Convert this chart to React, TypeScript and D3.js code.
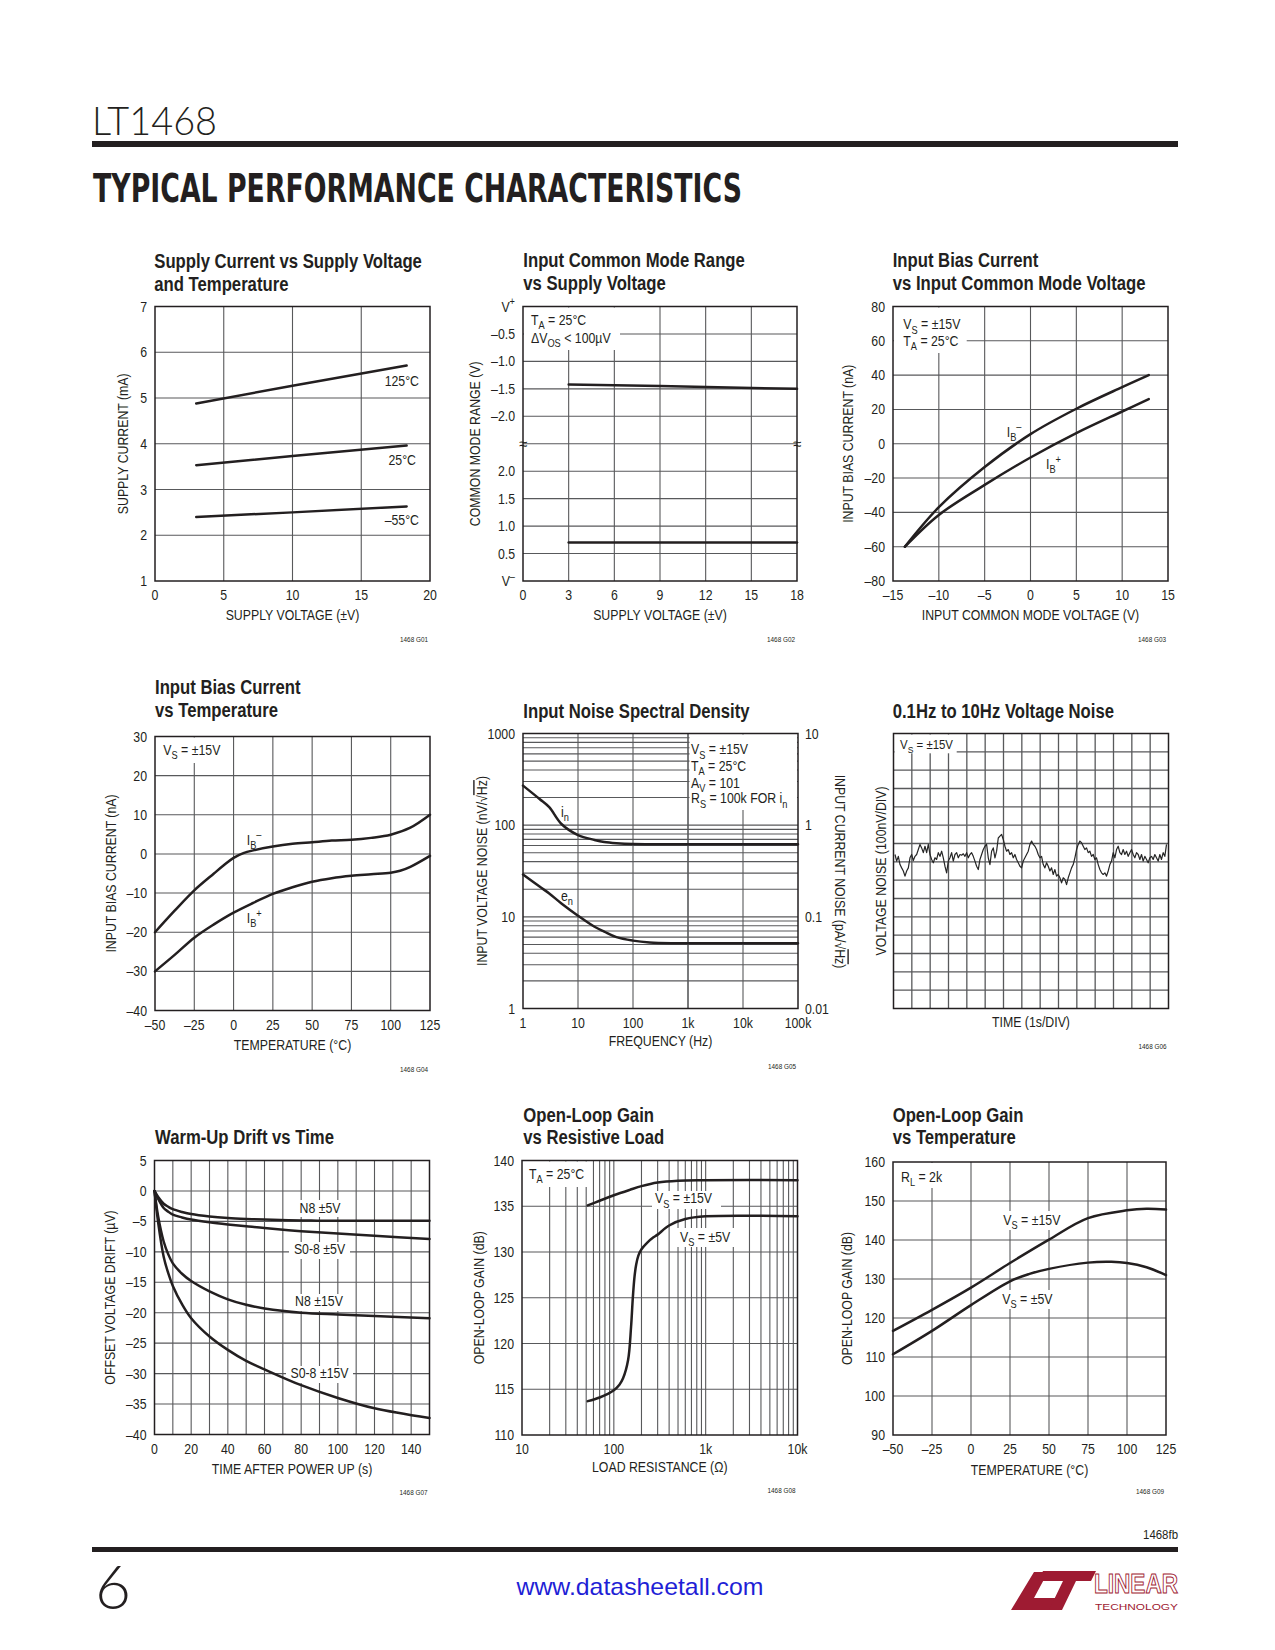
import React from 'react';
import * as d3 from 'd3';

const INK = '#231f20';
const GRID = '#58595b';
const SANS = '"Liberation Sans", Arial, Helvetica, sans-serif';

// ---------- Chart 1: Supply current vs supply voltage ----------
const c1Volts = [3, 10, 18.3];
const c1I125 = [4.88, 5.27, 5.71];
const c1I25 = [3.53, 3.73, 3.96];
const c1Im55 = [2.4, 2.5, 2.63];
const c1XTicks = [0, 5, 10, 15, 20];
const c1YTicks = [1, 2, 3, 4, 5, 6, 7];

// ---------- Chart 2: Input common mode range ----------
const c2UpperVs = [3, 9, 18];
const c2Upper = [-1.42, -1.45, -1.5];
const c2LowerVs = [3, 18];
const c2Lower = [0.7, 0.7];
const c2XTicks = [0, 3, 6, 9, 12, 15, 18];
const c2YLabels = ['V^{+}', '–0.5', '–1.0', '–1.5', '–2.0', '', '2.0', '1.5', '1.0', '0.5', 'V^{–}'];

// ---------- Chart 3: Input bias current vs common mode voltage ----------
const c3Vcm = [-13.7, -10, -5, 0, 5, 10, 12.9];
const c3IbMinus = [-60, -37, -13.6, 5.6, 20.4, 33, 40];
const c3IbPlus = [-60, -41.5, -24, -8, 6.2, 18.8, 26];
const c3XTicks = [-15, -10, -5, 0, 5, 10, 15];
const c3YTicks = [80, 60, 40, 20, 0, -20, -40, -60, -80];

// ---------- Chart 4: Input bias current vs temperature ----------
const c4TempM = [-50, -37.5, -25, -12.5, -6.25, 0, 6.25, 12.5, 25, 37.5, 50, 62.5, 75, 87.5, 100, 112.5, 125];
const c4IbMinus = [-20, -14.5, -9.3, -5.0, -2.9, -1.0, 0.2, 0.9, 1.9, 2.6, 3.0, 3.4, 3.6, 4.1, 4.9, 6.7, 10];
const c4TempP = [-50, -37.5, -25, -12.5, 0, 12.5, 25, 37.5, 50, 62.5, 75, 87.5, 100, 106, 112.5, 125];
const c4IbPlus = [-30, -25.8, -21.4, -18, -15, -12.5, -10.2, -8.5, -7.1, -6.2, -5.6, -5.2, -4.8, -4.3, -3.3, -0.5];
const c4XTicks = [-50, -25, 0, 25, 50, 75, 100, 125];
const c4YTicks = [30, 20, 10, 0, -10, -20, -30, -40];

// ---------- Chart 5: Input noise spectral density ----------
const c5Freq = [1, 2, 3, 5, 10, 20, 30, 50, 100, 200, 500, 1000, 100000];
const c5CurrentNoise = [2.7, 1.93, 1.57, 1.03, 0.78, 0.69, 0.655, 0.635, 0.622, 0.62, 0.62, 0.62, 0.62]; // pA/rtHz
const c5VoltageNoise = [29, 21.4, 18, 14, 10.3, 7.8, 6.9, 6.0, 5.5, 5.25, 5.15, 5.15, 5.15]; // nV/rtHz
const c5XTicks = [1, 10, 100, 1000, 10000, 100000];
const c5XLabels = ['1', '10', '100', '1k', '10k', '100k'];
const c5YTicks = [1000, 100, 10, 1];
const c5YLabels = ['1000', '100', '10', '1'];
const c5RLabels = ['10', '1', '0.1', '0.01'];

// ---------- Chart 6: 0.1Hz to 10Hz voltage noise (divisions) ----------
const c6Noise = [0.4, 0.04, 0.3, -0.15, -0.33, -0.5, -0.78, -0.5, -0.33, 0.22, 0.4, 0.07, 0.3, 0.4, 0.67, 0.95, 0.76, 0.5, 0.85, 0.5, 0.95, 0.4, 0.13, -0.05, 0.22, 0.13, 0.5, 0.3, 0.58, 0.22, -0.24, -0.6, 0.04, 0.22, 0.5, 0.04, 0.4, 0.5, 0.22, 0.4, 0.36, 0.44, 0.3, 0.5, 0.22, 0.4, 0.5, 0.3, 0.04, -0.24, -0.42, 0.13, 0.4, 0.67, 0.85, 0.95, 0.22, -0.15, 0.58, 0.76, 0.22, 0.58, 1.3, 1.4, 1.5, 1.22, 0.85, 0.58, 0.67, 0.4, 0.5, 0.22, 0.4, 0.13, -0.05, -0.24, -0.33, 0.04, 0.22, 0.4, 0.58, 0.95, 1.13, 0.95, 0.85, 0.67, 0.4, 0.22, 0.3, -0.15, -0.33, -0.05, -0.24, -0.5, -0.33, -0.69, -0.42, -0.78, -0.69, -0.87, -1.15, -0.87, -0.96, -1.24, -0.87, -0.6, -0.33, -0.15, 0.22, 0.67, 0.95, 1.13, 1.04, 0.85, 0.67, 0.76, 0.5, 0.58, 0.3, 0.4, 0.13, 0.22, -0.15, -0.42, -0.6, -0.69, -0.6, -0.78, -0.5, -0.15, 0.04, 0.5, 0.22, 0.67, 0.85, 0.5, 0.4, 0.67, 0.4, 0.58, 0.3, 0.5, 0.67, 0.4, 0.22, 0.5, 0.4, 0.13, 0.4, 0.04, 0.3, 0.13, -0.05, 0.22, 0.3, 0.13, 0.4, 0.22, 0.04, 0.4, 0.13, 0.5, 0.3, 0.95];

// ---------- Chart 7: Warm-up drift vs time ----------
const c7Time = [0, 2, 5, 7.5, 10, 15, 20, 30, 40, 50, 60, 80, 100, 120, 150];
const c7N8_5 = [0, -1.0, -2.1, -2.6, -3.0, -3.45, -3.8, -4.2, -4.45, -4.6, -4.7, -4.85, -4.9, -4.9, -4.9];
const c7SO8_5 = [0, -1.3, -2.8, -3.4, -3.9, -4.35, -4.7, -5.15, -5.5, -5.8, -6.1, -6.6, -7.0, -7.35, -7.9];
const c7N8_15 = [0, -4.2, -8.3, -10.4, -11.9, -13.6, -14.8, -16.5, -17.8, -18.7, -19.3, -20.0, -20.3, -20.55, -20.9];
const c7SO8_15 = [0, -5.2, -10.8, -13.5, -15.6, -18.6, -20.9, -23.9, -26.1, -27.9, -29.3, -31.9, -34.0, -35.7, -37.3];
const c7XTicks = [0, 20, 40, 60, 80, 100, 120, 140];
const c7YTicks = [5, 0, -5, -10, -15, -20, -25, -30, -35, -40];

// ---------- Chart 8: Open-loop gain vs resistive load ----------
const c8R15 = [52, 70, 100, 150, 200, 300, 500, 1000, 10000];
const c8G15 = [135.1, 135.6, 136.2, 136.8, 137.2, 137.6, 137.8, 137.85, 137.85];
const c8R5 = [52, 70, 100, 115, 126, 143, 154, 161, 168, 175, 185, 200, 230, 270, 300, 400, 600, 1000, 10000];
const c8G5 = [113.7, 114.1, 114.9, 115.5, 116.2, 118.2, 121.8, 125.0, 127.3, 128.6, 129.6, 130.3, 131.0, 131.6, 131.9, 132.9, 133.6, 133.9, 133.9];
const c8XTicks = [10, 100, 1000, 10000];
const c8XLabels = ['10', '100', '1k', '10k'];
const c8YTicks = [140, 135, 130, 125, 120, 115, 110];

// ---------- Chart 9: Open-loop gain vs temperature ----------
const c9Temp15 = [-50, -25, 0, 25, 50, 75, 100, 112.5, 125];
const c9G15 = [116.7, 122.1, 127.8, 134.1, 140.1, 145.6, 147.6, 148, 147.8];
const c9Temp5 = [-50, -25, 0, 25, 37.5, 50, 75, 90, 100, 112.5, 125];
const c9G5 = [110.7, 116.7, 123.3, 129.4, 131.3, 132.6, 134.2, 134.4, 134.1, 133, 131];
const c9XTicks = [-50, -25, 0, 25, 50, 75, 100, 125];
const c9YTicks = [160, 150, 140, 130, 120, 110, 100, 90];

// ---------- helpers ----------
const zip = (a: number[], b: number[]) => a.map((v, i) => [v, b[i]] as [number, number]);
const fmtNum = (v: number) => (v < 0 ? '–' + Math.abs(v) : String(v));
const SMOOTH = d3.curveCatmullRom.alpha(0.5);

function spans(s: string, size: number) {
  const out: any[] = [];
  const re = /([_^~])\{([^}]*)\}/g;
  let last = 0, off = 0, k = 0;
  let m: any;
  while ((m = re.exec(s))) {
    if (m.index > last) {
      out.push(<tspan key={k++} dy={-off}>{s.slice(last, m.index)}</tspan>);
      off = 0;
    }
    if (m[1] === '~') {
      out.push(<tspan key={k++} dy={-off} style={{ textDecoration: 'overline' }}>{m[2]}</tspan>);
      off = 0;
    } else {
      const t = m[1] === '_' ? size * 0.3 : -size * 0.45;
      out.push(<tspan key={k++} dy={t - off} fontSize={size * 0.75}>{m[2]}</tspan>);
      off = t;
    }
    last = re.lastIndex;
  }
  if (last < s.length) out.push(<tspan key={k++} dy={-off}>{s.slice(last)}</tspan>);
  return out;
}

function Tx({ x, y, s, size = 14, anchor = 'start', weight = 400, rot = 0, sx = 0.88, fill = INK, family = SANS }: any) {
  return (
    <text transform={`translate(${x},${y}) rotate(${rot}) scale(${sx},1)`} fontSize={size} textAnchor={anchor}
      fontWeight={weight} fontFamily={family} fill={fill}>{spans(s, size)}</text>
  );
}

const Title = ({ x, y, lines }: any) => (
  <g>{lines.map((l: string, i: number) => <Tx key={i} x={x} y={y + i * 22.7} s={l} size={20} weight={700} sx={0.835} />)}</g>
);

const Frame = ({ L, T, W, H }: any) => <rect x={L} y={T} width={W} height={H} fill="none" stroke={INK} strokeWidth={1.5} />;
const VL = ({ xs, T, B, w = 1.1 }: any) => (
  <g stroke={GRID} strokeWidth={w}>{xs.map((x: number, i: number) => <line key={i} x1={x} x2={x} y1={T} y2={B} />)}</g>
);
const HL = ({ ys, L, R, w = 1.1 }: any) => (
  <g stroke={GRID} strokeWidth={w}>{ys.map((y: number, i: number) => <line key={i} x1={L} x2={R} y1={y} y2={y} />)}</g>
);
const Curve = ({ d, w = 2.5 }: any) => <path d={d || ''} fill="none" stroke={INK} strokeWidth={w} strokeLinejoin="round" strokeLinecap="round" />;
const WBox = ({ x, y, w, h }: any) => <rect x={x} y={y} width={w} height={h} fill="#fff" />;

const XLab = ({ ticks, x, B, labels, dy = 19 }: any) => (
  <g>{ticks.map((t: number, i: number) => <Tx key={i} x={x(t)} y={B + dy} s={labels ? labels[i] : fmtNum(t)} anchor="middle" />)}</g>
);
const YLab = ({ ticks, y, L, labels }: any) => (
  <g>{ticks.map((t: number, i: number) => <Tx key={i} x={L - 8} y={y(t) + 5} s={labels ? labels[i] : fmtNum(t)} anchor="end" />)}</g>
);
const GId = ({ R, B, s, dy = 61 }: any) => <Tx x={R - 2} y={B + dy} s={s} size={7.5} anchor="end" sx={0.85} />;

const lineGen = (x: any, y: any, curve: any = SMOOTH) =>
  d3.line<[number, number]>().x((d) => x(d[0])).y((d) => y(d[1])).curve(curve);

// ---------- charts ----------
function Chart1() {
  const L = 155, T = 306.5, W = 275, H = 274.5, R = L + W, B = T + H;
  const x = d3.scaleLinear().domain([0, 20]).range([L, R]);
  const y = d3.scaleLinear().domain([1, 7]).range([B, T]);
  const lg = lineGen(x, y, d3.curveLinear);
  return (
    <g>
      <Title x={154.3} y={268} lines={['Supply Current vs Supply Voltage', 'and Temperature']} />
      <VL xs={[5, 10, 15].map(x)} T={T} B={B} />
      <HL ys={[2, 3, 4, 5, 6].map(y)} L={L} R={R} />
      <Frame L={L} T={T} W={W} H={H} />
      <Curve d={lg(zip(c1Volts, c1I125))} />
      <Curve d={lg(zip(c1Volts, c1I25))} />
      <Curve d={lg(zip(c1Volts, c1Im55))} />
      <Tx x={419} y={386} s="125°C" anchor="end" />
      <Tx x={416} y={465} s="25°C" anchor="end" />
      <Tx x={419} y={525} s="–55°C" anchor="end" />
      <XLab ticks={c1XTicks} x={x} B={B} />
      <YLab ticks={c1YTicks} y={y} L={L} />
      <Tx x={(L + R) / 2} y={B + 39} s="SUPPLY VOLTAGE (±V)" anchor="middle" />
      <Tx x={127.5} y={(T + B) / 2} s="SUPPLY CURRENT (mA)" anchor="middle" rot={-90} />
      <GId R={R} B={B} s="1468 G01" />
    </g>
  );
}

function Chart2() {
  const L = 523, T = 306.5, W = 274, H = 274.5, R = L + W, B = T + H;
  const x = d3.scaleLinear().domain([0, 18]).range([L, R]);
  const step = d3.scaleLinear().domain([0, 10]).range([T, B]);
  const yTop = d3.scaleLinear().domain([0, -2]).range([step(0), step(4)]);
  const yBot = d3.scaleLinear().domain([0, 2]).range([step(10), step(6)]);
  const steps = d3.range(0, 11);
  return (
    <g>
      <Title x={523.3} y={267.3} lines={['Input Common Mode Range', 'vs Supply Voltage']} />
      <VL xs={[3, 6, 9, 12, 15].map(x)} T={T} B={B} />
      <HL ys={d3.range(1, 10).map(step)} L={L} R={R} />
      <WBox x={L + 1} y={T + 1} w={620 - L - 1} h={350 - T - 1} />
      <Frame L={L} T={T} W={W} H={H} />
      <Curve d={lineGen(x, yTop, d3.curveLinear)(zip(c2UpperVs, c2Upper))} />
      <Curve d={lineGen(x, yBot, d3.curveLinear)(zip(c2LowerVs, c2Lower))} />
      <Tx x={531} y={325} s="T_{A} = 25°C" />
      <Tx x={531} y={342.7} s="ΔV_{OS} < 100µV" />
      <Tx x={L} y={step(5) + 5} s="≈" anchor="middle" size={15} sx={1} />
      <Tx x={R} y={step(5) + 5} s="≈" anchor="middle" size={15} sx={1} />
      <XLab ticks={c2XTicks} x={x} B={B} />
      <g>{steps.map((s, i) => <Tx key={i} x={L - 8} y={step(s) + 5} s={c2YLabels[i]} anchor="end" />)}</g>
      <Tx x={(L + R) / 2} y={B + 39} s="SUPPLY VOLTAGE (±V)" anchor="middle" />
      <Tx x={479.5} y={(T + B) / 2} s="COMMON MODE RANGE (V)" anchor="middle" rot={-90} />
      <GId R={R} B={B} s="1468 G02" />
    </g>
  );
}

function Chart3() {
  const L = 893, T = 306.5, W = 275, H = 274.5, R = L + W, B = T + H;
  const x = d3.scaleLinear().domain([-15, 15]).range([L, R]);
  const y = d3.scaleLinear().domain([-80, 80]).range([B, T]);
  const lg = lineGen(x, y);
  return (
    <g>
      <Title x={892.7} y={267.3} lines={['Input Bias Current', 'vs Input Common Mode Voltage']} />
      <VL xs={[-10, -5, 0, 5, 10].map(x)} T={T} B={B} />
      <HL ys={[60, 40, 20, 0, -20, -40, -60].map(y)} L={L} R={R} />
      <WBox x={L + 1} y={T + 1} w={966.7 - L - 1} h={353 - T - 1} />
      <Frame L={L} T={T} W={W} H={H} />
      <Curve d={lg(zip(c3Vcm, c3IbMinus))} />
      <Curve d={lg(zip(c3Vcm, c3IbPlus))} />
      <Tx x={903.3} y={329.3} s="V_{S} = ±15V" />
      <Tx x={903.3} y={345.5} s="T_{A} = 25°C" />
      <Tx x={1006.7} y={436.7} s="I_{B}^{–}" />
      <Tx x={1046} y={469} s="I_{B}^{+}" />
      <XLab ticks={c3XTicks} x={x} B={B} />
      <YLab ticks={c3YTicks} y={y} L={L} />
      <Tx x={(L + R) / 2} y={B + 39} s="INPUT COMMON MODE VOLTAGE (V)" anchor="middle" />
      <Tx x={853} y={(T + B) / 2} s="INPUT BIAS CURRENT (nA)" anchor="middle" rot={-90} />
      <GId R={R} B={B} s="1468 G03" />
    </g>
  );
}

function Chart4() {
  const L = 155, T = 736.5, W = 275, H = 274, R = L + W, B = T + H;
  const x = d3.scaleLinear().domain([-50, 125]).range([L, R]);
  const y = d3.scaleLinear().domain([-40, 30]).range([B, T]);
  const lg = lineGen(x, y);
  return (
    <g>
      <Title x={155} y={694} lines={['Input Bias Current', 'vs Temperature']} />
      <VL xs={[-25, 0, 25, 50, 75, 100].map(x)} T={T} B={B} />
      <HL ys={[20, 10, 0, -10, -20, -30].map(y)} L={L} R={R} />
      <WBox x={L + 1} y={T + 1} w={230 - L - 1} h={763 - T - 1} />
      <Frame L={L} T={T} W={W} H={H} />
      <Curve d={lg(zip(c4TempM, c4IbMinus))} />
      <Curve d={lg(zip(c4TempP, c4IbPlus))} />
      <Tx x={163.3} y={755} s="V_{S} = ±15V" />
      <Tx x={246.7} y={844.5} s="I_{B}^{–}" />
      <Tx x={246.7} y={923} s="I_{B}^{+}" />
      <XLab ticks={c4XTicks} x={x} B={B} />
      <YLab ticks={c4YTicks} y={y} L={L} />
      <Tx x={(L + R) / 2} y={B + 39} s="TEMPERATURE (°C)" anchor="middle" />
      <Tx x={116} y={(T + B) / 2} s="INPUT BIAS CURRENT (nA)" anchor="middle" rot={-90} />
      <GId R={R} B={B} s="1468 G04" />
    </g>
  );
}

function Chart5() {
  const L = 523, T = 733.5, W = 275, H = 275, R = L + W, B = T + H;
  const x = d3.scaleLog().domain([1, 100000]).range([L, R]);
  const y = d3.scaleLog().domain([1, 1000]).range([B, T]);
  const yR = d3.scaleLog().domain([0.01, 10]).range([B, T]);
  const minor: number[] = [];
  [1, 10, 100].forEach((b) => d3.range(1, 10).forEach((m) => { if (b * m > 1) minor.push(b * m); }));
  return (
    <g>
      <Title x={523.3} y={717.7} lines={['Input Noise Spectral Density']} />
      <HL ys={minor.map(y)} L={L} R={R} />
      <VL xs={[10, 100, 1000, 10000].map(x)} T={T} B={B} />
      <WBox x={689.5} y={T + 1} w={R - 689.5 - 1} h={810 - T - 1} />
      <line x1={x(1000)} x2={x(1000)} y1={T} y2={B} stroke={GRID} strokeWidth={1.1} />
      <Frame L={L} T={T} W={W} H={H} />
      <Curve d={lineGen(x, yR)(zip(c5Freq, c5CurrentNoise))} />
      <Curve d={lineGen(x, y)(zip(c5Freq, c5VoltageNoise))} />
      <Tx x={691} y={754.3} s="V_{S} = ±15V" />
      <Tx x={691} y={771} s="T_{A} = 25°C" />
      <Tx x={691} y={787.7} s="A_{V} = 101" />
      <Tx x={691} y={803.3} s="R_{S} = 100k FOR i_{n}" />
      <Tx x={561} y={816.7} s="i_{n}" />
      <Tx x={561} y={900.7} s="e_{n}" />
      <XLab ticks={c5XTicks} x={x} B={B} labels={c5XLabels} />
      <YLab ticks={c5YTicks} y={y} L={L} labels={c5YLabels} />
      <g>{c5YTicks.map((t, i) => <Tx key={i} x={R + 7} y={y(t) + 5} s={c5RLabels[i]} />)}</g>
      <Tx x={(L + R) / 2} y={B + 37} s="FREQUENCY (Hz)" anchor="middle" />
      <Tx x={487} y={(T + B) / 2} s="INPUT VOLTAGE NOISE (nV/√~{Hz})" anchor="middle" rot={-90} />
      <Tx x={835} y={871.5} s="INPUT CURRENT NOISE (pA/√~{Hz})" anchor="middle" rot={90} />
      <GId R={R} B={B} s="1468 G05" dy={60} />
    </g>
  );
}

function Chart6() {
  const L = 893.5, T = 733.5, W = 275, H = 275, R = L + W, B = T + H;
  const gx = d3.scaleLinear().domain([0, 15]).range([L, R]);
  const gy = d3.scaleLinear().domain([-8, 7]).range([B, T]);
  const x = d3.scaleLinear().domain([0, c6Noise.length - 1]).range([L + 1.5, R - 2]);
  const lg = d3.line<number>().x((_, i) => x(i)).y((v) => gy(v));
  return (
    <g>
      <Title x={892.7} y={717.7} lines={['0.1Hz to 10Hz Voltage Noise']} />
      <VL xs={d3.range(1, 15).map(gx)} T={T} B={B} w={1.3} />
      <HL ys={d3.range(-7, 7).map(gy)} L={L} R={R} w={1.3} />
      <WBox x={L + 1} y={T + 1} w={956.7 - L - 1} h={753.3 - T - 1} />
      <Frame L={L} T={T} W={W} H={H} />
      <path d={lg(c6Noise) || ''} fill="none" stroke="#262626" strokeWidth={1.2} strokeLinejoin="round" />
      <Tx x={900} y={749.3} s="V_{S} = ±15V" size={13} />
      <Tx x={(L + R) / 2} y={B + 18} s="TIME (1s/DIV)" anchor="middle" />
      <Tx x={886} y={(T + B) / 2} s="VOLTAGE NOISE (100nV/DIV)" anchor="middle" rot={-90} />
      <GId R={R} B={B} s="1468 G06" dy={40} />
    </g>
  );
}

function Chart7() {
  const L = 154.5, T = 1160.5, W = 275, H = 274, R = L + W, B = T + H;
  const x = d3.scaleLinear().domain([0, 150]).range([L, R]);
  const y = d3.scaleLinear().domain([-40, 5]).range([B, T]);
  const lg = lineGen(x, y);
  return (
    <g>
      <Title x={155} y={1144} lines={['Warm-Up Drift vs Time']} />
      <VL xs={d3.range(10, 150, 10).map(x)} T={T} B={B} />
      <HL ys={d3.range(-35, 5, 5).map(y)} L={L} R={R} />
      <WBox x={296} y={1200} w={48} h={17} />
      <WBox x={289} y={1242} w={61} h={17} />
      <WBox x={292} y={1294} w={55} h={17} />
      <WBox x={286} y={1366} w={67} h={17} />
      <Frame L={L} T={T} W={W} H={H} />
      <Curve d={lg(zip(c7Time, c7N8_5))} />
      <Curve d={lg(zip(c7Time, c7SO8_5))} />
      <Curve d={lg(zip(c7Time, c7N8_15))} />
      <Curve d={lg(zip(c7Time, c7SO8_15))} />
      <Tx x={320} y={1213.3} s="N8 ±5V" anchor="middle" />
      <Tx x={319.5} y={1254.3} s="S0-8 ±5V" anchor="middle" />
      <Tx x={319} y={1306} s="N8 ±15V" anchor="middle" />
      <Tx x={319.5} y={1378.3} s="S0-8 ±15V" anchor="middle" />
      <XLab ticks={c7XTicks} x={x} B={B} />
      <YLab ticks={c7YTicks} y={y} L={L} />
      <Tx x={(L + R) / 2} y={B + 39} s="TIME AFTER POWER UP (s)" anchor="middle" />
      <Tx x={114.5} y={(T + B) / 2} s="OFFSET VOLTAGE DRIFT (µV)" anchor="middle" rot={-90} />
      <GId R={R} B={B} s="1468 G07" dy={60} />
    </g>
  );
}

function Chart8() {
  const L = 522, T = 1160.5, W = 275.5, H = 274.5, R = L + W, B = T + H;
  const x = d3.scaleLog().domain([10, 10000]).range([L, R]);
  const y = d3.scaleLinear().domain([110, 140]).range([B, T]);
  const vlines: number[] = [];
  [10, 100, 1000].forEach((b) => d3.range(1, 10).forEach((m) => { if (b * m > 10) vlines.push(b * m); }));
  const lg = lineGen(x, y);
  return (
    <g>
      <Title x={523.3} y={1121.7} lines={['Open-Loop Gain', 'vs Resistive Load']} />
      <VL xs={vlines.map(x)} T={T} B={B} />
      <HL ys={[135, 130, 125, 120, 115].map(y)} L={L} R={R} />
      <WBox x={L + 1} y={T + 1} w={587 - L - 1} h={1187 - T - 1} />
      <WBox x={652} y={1191} w={69} h={18} />
      <WBox x={677} y={1228} w={57} h={19} />
      <Frame L={L} T={T} W={W} H={H} />
      <Curve d={lg(zip(c8R15, c8G15))} />
      <Curve d={lg(zip(c8R5, c8G5))} />
      <Tx x={529} y={1179} s="T_{A} = 25°C" />
      <Tx x={655} y={1203.3} s="V_{S} = ±15V" />
      <Tx x={680} y={1241.7} s="V_{S} = ±5V" />
      <XLab ticks={c8XTicks} x={x} B={B} labels={c8XLabels} />
      <YLab ticks={c8YTicks} y={y} L={L} />
      <Tx x={(L + R) / 2} y={B + 37} s="LOAD RESISTANCE (Ω)" anchor="middle" />
      <Tx x={484} y={(T + B) / 2} s="OPEN-LOOP GAIN (dB)" anchor="middle" rot={-90} />
      <GId R={R} B={B} s="1468 G08" dy={58} />
    </g>
  );
}

function Chart9() {
  const L = 893, T = 1162, W = 273, H = 273, R = L + W, B = T + H;
  const x = d3.scaleLinear().domain([-50, 125]).range([L, R]);
  const y = d3.scaleLinear().domain([90, 160]).range([B, T]);
  const lg = lineGen(x, y);
  return (
    <g>
      <Title x={892.7} y={1121.7} lines={['Open-Loop Gain', 'vs Temperature']} />
      <VL xs={[-25, 0, 25, 50, 75, 100].map(x)} T={T} B={B} />
      <HL ys={[150, 140, 130, 120, 110, 100].map(y)} L={L} R={R} />
      <WBox x={L + 1} y={T + 1} w={950 - L - 1} h={1188 - T - 1} />
      <WBox x={1000} y={1211} w={66} h={19} />
      <WBox x={999} y={1290} w={60} h={19} />
      <Frame L={L} T={T} W={W} H={H} />
      <Curve d={lg(zip(c9Temp15, c9G15))} />
      <Curve d={lg(zip(c9Temp5, c9G5))} />
      <Tx x={901} y={1181.7} s="R_{L} = 2k" />
      <Tx x={1003.3} y={1225} s="V_{S} = ±15V" />
      <Tx x={1002.3} y={1304} s="V_{S} = ±5V" />
      <XLab ticks={c9XTicks} x={x} B={B} />
      <YLab ticks={c9YTicks} y={y} L={L} />
      <Tx x={(L + R) / 2} y={B + 40} s="TEMPERATURE (°C)" anchor="middle" />
      <Tx x={852} y={(T + B) / 2} s="OPEN-LOOP GAIN (dB)" anchor="middle" rot={-90} />
      <GId R={R} B={B} s="1468 G09" dy={59} />
    </g>
  );
}

function Header() {
  return (
    <g>
      <text x={92} y={135} fontSize={39} fontFamily='Lato, "DejaVu Sans", sans-serif' fontWeight={300} fill={INK}
        textLength={125} lengthAdjust="spacingAndGlyphs">LT1468</text>
      <rect x={92} y={141} width={1086} height={6} fill={INK} />
      <text x={93} y={202} fontSize={39} fontFamily='"DejaVu Sans", sans-serif' fontWeight={900} fill={INK}
        textLength={649} lengthAdjust="spacingAndGlyphs">TYPICAL PERFORMANCE CHARACTERISTICS</text>
    </g>
  );
}

function Footer() {
  const red = '#9e1b32';
  return (
    <g>
      <Tx x={1178} y={1539} s="1468fb" size={13} anchor="end" />
      <rect x={92} y={1547} width={1086} height={5} fill={INK} />
      <text x={95} y={1609} fontSize={62} fontFamily='Lato, "DejaVu Sans", sans-serif' fontWeight={300} fill={INK}>6</text>
      <text x={640} y={1595} fontSize={24} fontFamily={SANS} fill="#1f1fd6" textAnchor="middle"
        textLength={247} lengthAdjust="spacingAndGlyphs">www.datasheetall.com</text>
      <g fill={red}>
        <path d="M1011,1610 L1060,1610 L1066,1598 L1034,1598 L1048,1572 L1034,1572 Z" />
        <path d="M1043,1571 L1096,1571 L1091,1581 L1076,1581 L1062,1610 L1049,1610 L1063,1581 L1038,1581 Z" />
      </g>
      <text x={1094} y={1593} fontSize={27} fontFamily={SANS} fontWeight={700} fill="none" stroke={red} strokeWidth={1}
        textLength={84} lengthAdjust="spacingAndGlyphs">LINEAR</text>
      <text x={1095} y={1610} fontSize={9} fontFamily={SANS} fill={red} textLength={83} lengthAdjust="spacingAndGlyphs">TECHNOLOGY</text>
    </g>
  );
}

export default function App() {
  return (
    <svg width={1275} height={1650} viewBox="0 0 1275 1650" xmlns="http://www.w3.org/2000/svg"
      style={{ position: 'absolute', left: 0, top: 0, display: 'block' }}>
      <rect width={1275} height={1650} fill="#fff" />
      <Header />
      <Chart1 />
      <Chart2 />
      <Chart3 />
      <Chart4 />
      <Chart5 />
      <Chart6 />
      <Chart7 />
      <Chart8 />
      <Chart9 />
      <Footer />
    </svg>
  );
}
